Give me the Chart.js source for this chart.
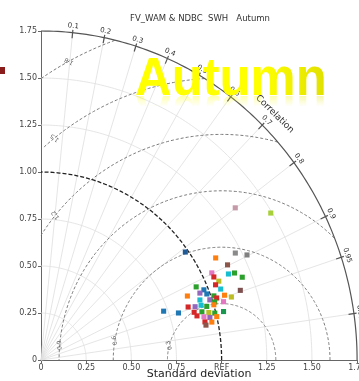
<!DOCTYPE html>
<html>
<head>
<meta charset="utf-8">
<script src="https://cdn.jsdelivr.net/npm/chart.js@4.4.0/dist/chart.umd.min.js"></script>
<style>
  html, body { margin: 0; padding: 0; background: #fff; overflow: hidden; }
  #wrap { width: 366px; height: 381px; }
</style>
</head>
<body>
<div id="wrap"><canvas id="chart" width="366" height="381"></canvas></div>
<script>
// Taylor diagram values: standard deviation (normalised) and correlation per model run
const sdValues = [
    1.346, 1.493, 1.217, 1.270, 0.984, 1.109, 1.150, 1.053, 1.054, 1.134,
    1.167, 1.198, 1.070, 1.046, 1.064, 0.943, 1.164, 0.976, 0.949, 0.879,
    0.983, 1.016, 1.027, 1.073, 0.936, 0.988, 1.010, 1.057, 1.106, 0.862,
    0.899, 0.933, 0.961, 1.001, 0.885, 0.927, 0.963, 0.994, 1.043, 0.727,
    0.801, 0.895, 0.931, 0.962, 1.000, 0.930, 0.967, 0.932
];
const corrValues = [
    0.799, 0.852, 0.884, 0.898, 0.812, 0.872, 0.898, 0.898, 0.908, 0.915,
    0.918, 0.930, 0.920, 0.924, 0.935, 0.911, 0.948, 0.924, 0.927, 0.922,
    0.934, 0.942, 0.947, 0.947, 0.940, 0.946, 0.952, 0.956, 0.953, 0.945,
    0.949, 0.950, 0.955, 0.956, 0.958, 0.961, 0.965, 0.968, 0.969, 0.934,
    0.950, 0.965, 0.969, 0.972, 0.973, 0.976, 0.978, 0.980
];
const markerColors = [
    '#c49aa8', '#a8d03a', '#8a8a8a', '#7f7f7f', '#1f5a96', '#ff7f0e', '#8c564b', '#e377c2', '#d62728', '#17becf',
    '#2ca02c', '#2ca02c', '#bcbd22', '#d62728', '#17becf', '#2ca02c', '#7f5050', '#1f77b4', '#9467bd', '#ff7f0e',
    '#1f77b4', '#2ca02c', '#d62728', '#ff7f0e', '#17becf', '#9467bd', '#2ca02c', '#e377c2', '#bcbd22', '#d62728',
    '#9467bd', '#17becf', '#2ca02c', '#ff7f0e', '#d62728', '#2ca02c', '#bcbd22', '#2ca02c', '#1a9850', '#1f77b4',
    '#1f77b4', '#d62728', '#e377c2', '#9467bd', '#ff7f0e', '#d62728', '#ff7f0e', '#8c564b'
];

// Grid values
const refSd = 1.0;
const sdMax = 1.75;
const sdGrid = [0.25, 0.5, 0.75, 1.25, 1.5];
const corrTicks = [0.1, 0.2, 0.3, 0.4, 0.5, 0.6, 0.7, 0.8, 0.9, 0.95, 0.99];
const rmsTicks = [0.3, 0.6, 0.9, 1.2, 1.5, 1.8];

const chartTitle = 'FV_WAM & NDBC  SWH   Autumn';
const seasonLabel = 'Autumn';

// polar (sd, corr) -> cartesian
const points = sdValues.map((s, i) => ({
    x: s * corrValues[i],
    y: s * Math.sqrt(1 - corrValues[i] * corrValues[i])
}));

function strokePath(ctx, pts) {
    let started = false;
    ctx.beginPath();
    pts.forEach(p => {
        if (!p) { started = false; return; }
        if (!started) { ctx.moveTo(p[0], p[1]); started = true; }
        else ctx.lineTo(p[0], p[1]);
    });
    ctx.stroke();
}

const taylorGrid = {
    id: 'taylorGrid',
    beforeDatasetsDraw(chart) {
        const ctx = chart.ctx;
        const xs = chart.scales.x, ys = chart.scales.y;
        const px = v => xs.getPixelForValue(v);
        const py = v => ys.getPixelForValue(v);
        const arcPts = (r, a0, a1) => {
            const out = [];
            for (let i = 0; i <= 120; i++) {
                const a = a0 + (a1 - a0) * i / 120;
                out.push([px(r * Math.cos(a)), py(r * Math.sin(a))]);
            }
            return out;
        };

        ctx.save();
        // light sd arcs
        ctx.strokeStyle = '#dedede';
        ctx.lineWidth = 0.8;
        sdGrid.forEach(r => strokePath(ctx, arcPts(r, 0, Math.PI / 2)));

        // correlation rays
        corrTicks.forEach(c => {
            const a = Math.acos(c);
            ctx.beginPath();
            ctx.moveTo(px(0), py(0));
            ctx.lineTo(px(sdMax * Math.cos(a)), py(sdMax * Math.sin(a)));
            ctx.stroke();
        });

        // centred RMS difference circles around REF
        ctx.strokeStyle = '#7a7a7a';
        ctx.lineWidth = 1;
        ctx.setLineDash([3, 2]);
        rmsTicks.forEach(r => {
            const out = [];
            for (let i = 0; i <= 300; i++) {
                const a = Math.PI * i / 300;
                const x = refSd + r * Math.cos(a), y = r * Math.sin(a);
                if (x >= 0 && x * x + y * y <= sdMax * sdMax) out.push([px(x), py(y)]);
                else out.push(null);
            }
            strokePath(ctx, out);
        });

        // reference sd arc
        ctx.strokeStyle = '#222';
        ctx.lineWidth = 1.3;
        ctx.setLineDash([4, 2]);
        strokePath(ctx, arcPts(refSd, 0, Math.PI / 2));
        ctx.setLineDash([]);

        // outer arc with correlation ticks
        ctx.strokeStyle = '#555';
        ctx.lineWidth = 1.2;
        strokePath(ctx, arcPts(sdMax, 0, Math.PI / 2));
        ctx.fillStyle = '#333';
        ctx.font = '7px "DejaVu Sans"';
        ctx.textAlign = 'center';
        ctx.textBaseline = 'middle';
        corrTicks.forEach(c => {
            const a = Math.acos(c);
            ctx.beginPath();
            ctx.moveTo(px(1.72 * c), py(1.72 * Math.sin(a)));
            ctx.lineTo(px(1.765 * c), py(1.765 * Math.sin(a)));
            ctx.stroke();
            ctx.save();
            ctx.translate(px(1.785 * c), py(1.785 * Math.sin(a)));
            ctx.rotate(Math.PI / 2 - a);
            ctx.fillText(String(c), 0, 0);
            ctx.restore();
        });
        const ca = 45.3 * Math.PI / 180;
        ctx.save();
        ctx.font = '9px "DejaVu Sans"';
        ctx.translate(px(1.84 * Math.cos(ca)), py(1.84 * Math.sin(ca)));
        ctx.rotate(Math.PI / 2 - ca);
        ctx.fillText('Correlation', 0, 0);
        ctx.restore();

        // RMS labels along each circle
        const labelAngles = [165, 170, 175, 140, 128, 118];
        ctx.fillStyle = '#666';
        ctx.font = '6px "DejaVu Sans"';
        rmsTicks.forEach((r, i) => {
            const a = labelAngles[i] * Math.PI / 180;
            ctx.save();
            ctx.translate(px(refSd + r * Math.cos(a)), py(r * Math.sin(a)));
            ctx.rotate(a - Math.PI / 2 - Math.PI);
            ctx.fillText(String(r), 0, 0);
            ctx.restore();
        });
        ctx.restore();
    },
    afterDraw(chart) {
        const ctx = chart.ctx;
        ctx.save();
        // plot title
        ctx.fillStyle = '#333';
        ctx.font = '8.5px "DejaVu Sans"';
        ctx.textAlign = 'center';
        ctx.textBaseline = 'middle';
        ctx.fillText(chartTitle, 200, 19);

        // small slide marker
        ctx.fillStyle = '#8b1c1c';
        ctx.fillRect(0, 67, 5, 7);

        // season banner with faded reflection
        const bx = 135, by = 95, sx = 0.94;
        ctx.font = 'bold 54px "Liberation Sans"';
        ctx.textAlign = 'left';
        ctx.textBaseline = 'alphabetic';
        const grad = ctx.createLinearGradient(bx, 0, bx + 192, 0);
        grad.addColorStop(0, '#ffff00');
        grad.addColorStop(0.5, '#d4d400');
        grad.addColorStop(1, '#868600');
        ctx.fillStyle = grad;
        const drawWord = () => {
            ctx.save();
            ctx.translate(bx, 0);
            ctx.scale(sx, 1);
            ctx.fillText(seasonLabel, 0, 0);
            ctx.restore();
        };
        ctx.save();
        ctx.translate(0, by);
        drawWord();
        ctx.restore();
        for (let i = 0; i < 10; i++) {
            ctx.save();
            ctx.beginPath();
            ctx.rect(bx - 5, by + 1 + i, 205, 1);
            ctx.clip();
            ctx.globalAlpha = 0.3 * (1 - i / 10);
            ctx.translate(0, by + 1);
            ctx.scale(1, -1);
            drawWord();
            ctx.restore();
        }
        ctx.restore();
    }
};

let chart;
try {
    const ctx = document.getElementById('chart');
    chart = new Chart(ctx.getContext('2d'), {
        type: 'scatter',
        data: {
            datasets: [{
                data: points,
                pointStyle: 'rect',
                pointRadius: 3.6,
                pointBackgroundColor: markerColors,
                pointBorderWidth: 0
            }]
        },
        options: {
            responsive: false,
            animation: false,
            layout: { padding: { top: 31, right: 3, left: 0, bottom: 0 } },
            plugins: {
                legend: { display: false },
                tooltip: { enabled: false }
            },
            scales: {
                x: {
                    type: 'linear',
                    min: 0,
                    max: sdMax,
                    afterFit: s => { s.height = 21; },
                    ticks: {
                        stepSize: 0.25,
                        padding: 0,
                        color: '#444',
                        font: { family: 'DejaVu Sans', size: 8 },
                        callback: v => v === refSd ? 'REF' : (v === 0 ? '0' : v.toFixed(2))
                    },
                    grid: { drawOnChartArea: false, tickLength: 3, color: '#666' },
                    border: { color: '#666' },
                    title: {
                        display: true,
                        text: 'Standard deviation',
                        color: '#222',
                        font: { family: 'DejaVu Sans', size: 11 },
                        padding: { top: 0, bottom: 0 }
                    }
                },
                y: {
                    type: 'linear',
                    min: 0,
                    max: sdMax,
                    afterFit: s => { s.width = 41; },
                    ticks: {
                        stepSize: 0.25,
                        padding: 1,
                        color: '#444',
                        font: { family: 'DejaVu Sans', size: 8 },
                        callback: v => v === 0 ? '0' : v.toFixed(2)
                    },
                    grid: { drawOnChartArea: false, tickLength: 3, color: '#666' },
                    border: { color: '#666' }
                }
            }
        },
        plugins: [taylorGrid]
    });
} catch (error) {
    console.error('Error initializing chart:', error);
}
</script>
</body>
</html>
